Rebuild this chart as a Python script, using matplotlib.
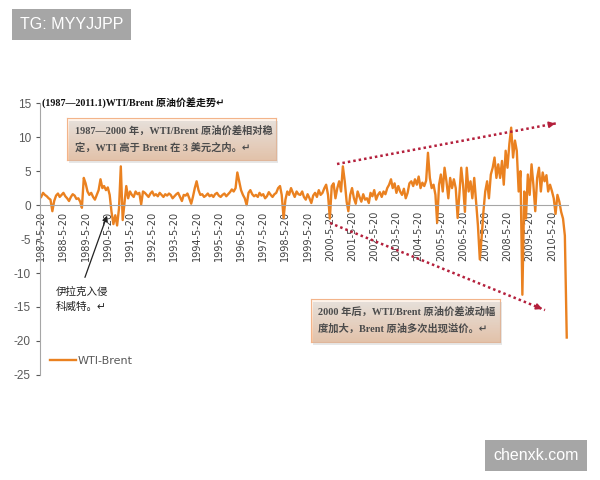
import numpy as np
import pandas as pd
import matplotlib
matplotlib.use("Agg")
import matplotlib.pyplot as plt
from matplotlib.colors import LinearSegmentedColormap
from matplotlib.lines import Line2D
from matplotlib.patches import Rectangle

plt.rcParams["axes.unicode_minus"] = False

# monthly WTI-Brent spread (USD), May 1987 .. Jan 2011
spread_1987_1993 = [
    1.2, 1.8, 1.5, 1.3, 1.0, 0.8, -0.9, 0.6,
    1.4, 1.7, 1.2, 1.5, 1.8, 1.3, 1.0, 0.6, 1.2, 1.6, 1.4, 0.9,
    1.0, 0.5, -0.4, 4.0, 3.2, 2.0, 1.5, 1.8, 1.2, 0.8, 1.5, 2.2,
    3.8, 2.5, 2.8, 2.2, 2.6, 1.5, -1.0, -2.8, -1.5, -3.0, -0.5, 5.7,
    -2.2, 0.5, 2.8, 1.0, 2.0, 1.5, 1.2, 2.0, 1.6, 1.8, 0.1, 2.0,
    1.8, 1.5, 1.2, 1.7, 2.0, 1.4, 1.6, 1.3, 1.8, 1.5, 1.2, 1.6,
    1.4, 1.7, 1.5, 1.0, 1.3, 1.6, 1.8, 1.2, 0.6, 1.5, 1.4, 1.7,
]
spread_1994_2000 = [
    1.0, 0.2, 1.2, 2.5, 3.5, 2.2, 1.5, 1.6, 1.2, 1.4, 1.7, 1.3,
    1.5, 1.2, 1.6, 1.8, 1.4, 1.2, 1.5, 1.7, 1.3, 1.6, 1.9, 2.3,
    2.0, 2.5, 4.8, 3.5, 2.2, 1.5, 1.0, 0.0, 1.8, 2.2, 1.6, 1.3,
    1.5, 1.2, 1.8, 1.4, 1.6, 1.0, 1.3, 1.9, 1.5, 1.2, 1.6, 1.8,
    2.5, 2.8, 1.5, -1.9, 0.8, 2.0, 1.5, 2.5, 1.8, 1.2, 2.0, 1.6,
    1.5, 2.0, 1.2, 0.8, 1.6, 1.0, 0.3, 1.4, 1.8, 1.2, 2.2, 1.5,
    1.8, 2.5, 3.0, 1.5, -2.0, 2.8, 3.2, 1.0, 2.5, 3.5, 2.0, 5.7,
]
spread_2001_2006 = [
    3.5, 0.5, -0.9, 1.5, 2.5, 1.0, 0.2, 2.0, 1.2, 0.5, 1.6, 0.8,
    1.0, 0.3, 1.8, 1.3, 2.2, 0.8, 1.5, 1.9, 1.2, 2.0, 1.6, 2.5,
    3.0, 3.8, 2.5, 3.2, 1.8, 2.8, 2.0, 1.5, 2.4, 1.0, 1.8, 3.2,
    3.5, 2.8, 3.8, 3.0, 4.2, 2.5, 3.3, 2.8, 3.6, 7.7, 4.0, 2.5,
    3.0, 1.5, -2.6, 3.0, 4.5, 2.0, 5.5, 3.5, 1.0, 4.0, 2.5, 3.8,
    2.5, -1.9, 1.5, 5.5, 3.0, -1.0, 5.5, 2.0, 3.5, 1.0, 4.0, 0.5,
]
spread_2007_2011 = [
    -3.0, -8.0, -5.0, -1.0, 2.0, 3.5, 1.0, 4.5, 5.5, 7.0, 4.0, 6.0,
    4.0, 6.5, 3.0, 8.0, 5.5, 9.0, 11.4, 7.0, 9.5, 8.0, 2.0, 5.0,
    -13.2, 2.0, -2.0, 4.5, 1.5, 6.0, 3.0, -0.9, 4.0, 5.5, 2.0, 4.8,
    3.5, 4.4, 2.0, 3.0, 2.1, 1.0, -1.3, 1.5, 0.5, -1.0, -2.0, -4.5,
    -19.5,
]
spread = spread_1987_1993 + spread_1994_2000 + spread_2001_2006 + spread_2007_2011
dates = pd.date_range("1987-05-01", periods=len(spread), freq="MS") + pd.Timedelta(days=19)

tick_years = list(range(1987, 2011))
tick_labels = [f"{y}-5-20" for y in tick_years]
y_ticks = [15, 10, 5, 0, -5, -10, -15, -20, -25]

title_text = "(1987—2011.1)WTI/Brent 原油价差走势↵"
note1 = "1987—2000 年，WTI/Brent 原油价差相对稳\n定，WTI 高于 Brent 在 3 美元之内。↵"
note2 = "2000 年后，WTI/Brent 原油价差波动幅\n度加大，Brent 原油多次出现溢价。↵"
iraq_text = "伊拉克入侵\n科威特。↵"

serif_cjk = ["Liberation Serif", "Noto Sans CJK SC", "DejaVu Sans"]
sans_cjk = ["Noto Sans CJK SC", "DejaVu Sans"]

fig = plt.figure(figsize=(6, 4.8), dpi=100)
ax = fig.add_axes([0.0667, 0.219, 0.88, 0.566])

line_color = "#EA8120"
ax.plot(dates, spread, color=line_color, lw=1.7, label="WTI-Brent")

ax.set_ylim(-25, 15)
ax.set_yticks(y_ticks)
ax.set_xlim(pd.Timestamp("1987-05-01"), pd.Timestamp("2011-02-10"))
ax.set_xticks([pd.Timestamp(f"{y}-05-20") for y in tick_years])
ax.set_xticklabels(tick_labels)
ax.tick_params(axis="y", colors="#595959", labelsize=8.5, length=3, width=0.8)
ax.tick_params(axis="x", length=0, pad=4, labelsize=7, labelcolor="#404040",
               labelrotation=90)
for lab in ax.get_xticklabels() + ax.get_yticklabels():
    lab.set_family("Liberation Sans")
for s in ["top", "right"]:
    ax.spines[s].set_visible(False)
ax.spines["bottom"].set_position(("data", 0))
ax.spines["bottom"].set_color("#A6A6A6")
ax.spines["left"].set_color("#A6A6A6")

leg = ax.legend(loc="center left", bbox_to_anchor=(0.0, 0.05), frameon=False,
                fontsize=8, handlelength=2.3, handletextpad=0.2)
for t in leg.get_texts():
    t.set_color("#595959")

fig.text(0.07, 0.785, title_text, fontsize=7.2, fontweight="bold",
         family=serif_cjk, va="center", ha="left", color="#111111")


def note_box(rect, text):
    x0, y0, w, h = rect
    fig.add_artist(Rectangle((x0 + 0.004, y0 - 0.006), w, h, transform=fig.transFigure,
                             facecolor="#BBBBBB", alpha=0.35, edgecolor="none"))
    bax = fig.add_axes(rect)
    grad = np.linspace(0, 1, 64).reshape(-1, 1)
    cmap = LinearSegmentedColormap.from_list("peach", ["#FFF6EE", "#F8C7A2"])
    bax.imshow(grad, aspect="auto", cmap=cmap, extent=[0, 1, 0, 1])
    bax.set_xticks([])
    bax.set_yticks([])
    for s in bax.spines.values():
        s.set_color("#F3B48A")
    bax.text(0.04, 0.5, text, transform=bax.transAxes, fontsize=7.4, fontweight="bold",
             family=serif_cjk, va="center", ha="left", color="#111111", linespacing=1.8)


note_box([0.1117, 0.6667, 0.348, 0.0875], note1)
note_box([0.518, 0.2875, 0.315, 0.0895], note2)

# dotted trend arrows
arrow_red = "#B4203C"
for (xs, ys), (xe, ye) in [((0.5617, 0.6583), (0.93, 0.74375)),
                           ((0.55, 0.5354), (0.9083, 0.354))]:
    fig.add_artist(Line2D([xs, xe], [ys, ye], transform=fig.transFigure,
                          color=arrow_red, lw=1.8, linestyle=(0, (1, 1.2))))
    fig.add_artist(plt.Annotation("", xy=(xe, ye), xycoords="figure fraction",
                                  xytext=(xe - (xe - xs) * 0.04, ye - (ye - ys) * 0.04),
                                  textcoords="figure fraction",
                                  arrowprops=dict(arrowstyle="-|>", color=arrow_red,
                                                  lw=1.2, mutation_scale=9)))

# Iraq annotation
fig.add_artist(plt.Annotation("", xy=(0.18, 0.5563), xycoords="figure fraction",
                              xytext=(0.14, 0.4167), textcoords="figure fraction",
                              arrowprops=dict(arrowstyle="-|>", color="#222222",
                                              lw=0.9, mutation_scale=8)))
fig.text(0.093, 0.377, iraq_text, fontsize=7.6, family=sans_cjk, va="center",
         ha="left", color="#222222", linespacing=1.6)

# watermarks
fig.text(0.033, 0.948, "TG: MYYJJPP", fontsize=11.5, color="white", family="Liberation Sans",
         va="center", ha="left",
         bbox=dict(boxstyle="square,pad=0.5", facecolor="#A6A6A6", edgecolor="none"))
fig.text(0.8933, 0.052, "chenxk.com", fontsize=11.5, color="white", family="Liberation Sans",
         va="center", ha="center",
         bbox=dict(boxstyle="square,pad=0.5", facecolor="#A6A6A6", edgecolor="none"))

fig.savefig("out.png", dpi=100)
